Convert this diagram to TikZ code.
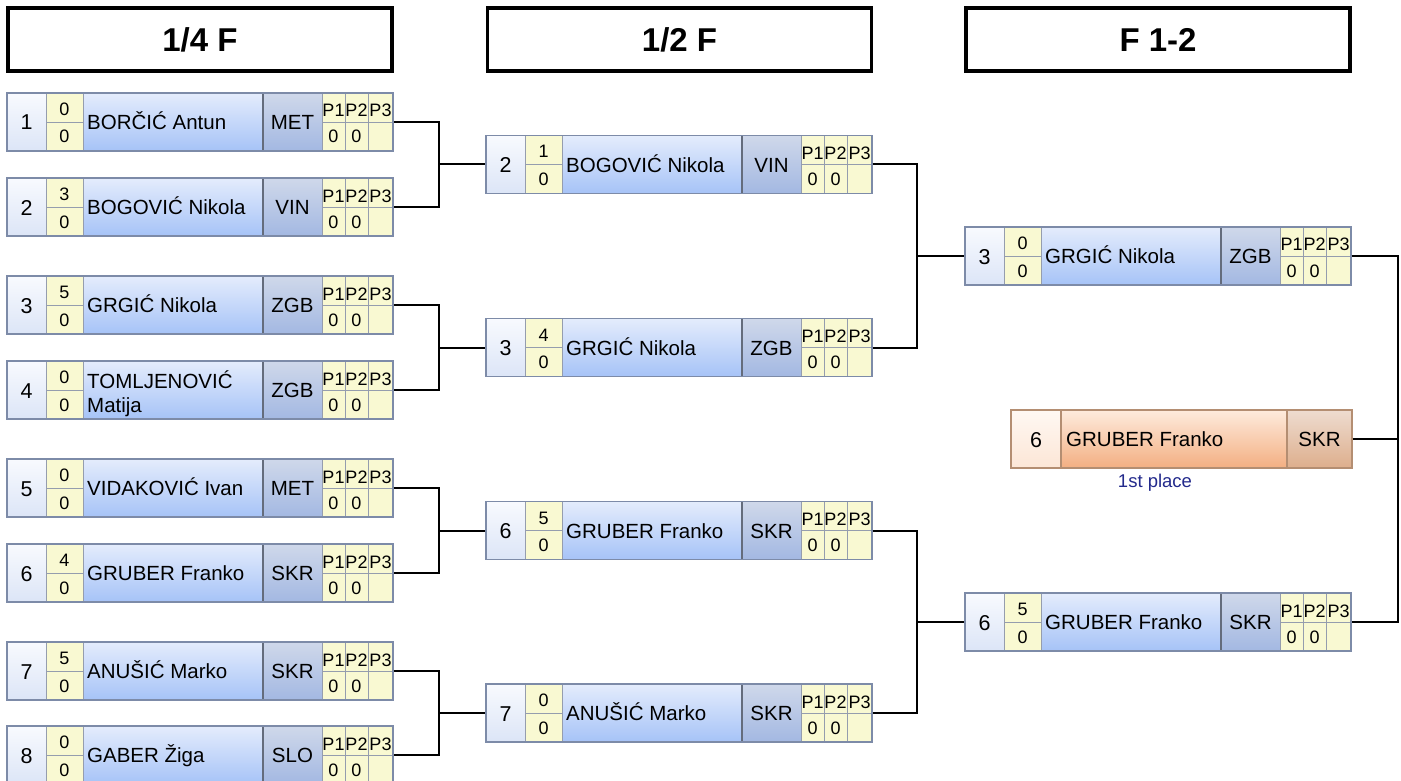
\documentclass[tikz,border=0pt]{standalone}
\usepackage{fontspec}
\setmainfont{Liberation Sans}
\usetikzlibrary{calc}
\definecolor{seedT}{HTML}{F8FAFE}
\definecolor{seedB}{HTML}{DCE5F7}
\definecolor{nameT}{HTML}{E4ECFC}
\definecolor{nameB}{HTML}{A6C3F7}
\definecolor{clubT}{HTML}{CFD8EA}
\definecolor{clubB}{HTML}{A3B8E2}
\definecolor{yel}{HTML}{F9F9D2}
\definecolor{frameC}{HTML}{7D8BA8}
\definecolor{sepC}{HTML}{959DAE}
\definecolor{sepD}{HTML}{646C7C}
\definecolor{wseedT}{HTML}{FFF8F3}
\definecolor{wseedB}{HTML}{FCE6D6}
\definecolor{wnameT}{HTML}{FEEBDD}
\definecolor{wnameB}{HTML}{F3AF82}
\definecolor{wclubT}{HTML}{EEDCD0}
\definecolor{wclubB}{HTML}{DDAE8C}
\definecolor{wframe}{HTML}{B48E72}
\definecolor{placeblue}{HTML}{232A8C}
\tikzset{
  conn/.style={line width=2pt, black},
  seedfill/.style={top color=seedT, bottom color=seedB},
  namefill/.style={top color=nameT, bottom color=nameB},
  clubfill/.style={top color=clubT, bottom color=clubB},
  yelfill/.style={fill=yel},
  sepline/.style={draw=sepC, line width=0.9pt},
  sepdark/.style={draw=sepD, line width=2pt},
  frame/.style={rectangle, draw=frameC, line width=1.3pt, minimum width=386pt, minimum height=58pt, inner sep=0pt},
  seedtxt/.style={inner sep=0pt, anchor=base, font=\fontsize{21.5}{25}\selectfont},
  bigtxt/.style={inner sep=0pt, anchor=base, font=\fontsize{20.5}{24}\selectfont},
  nametxt/.style={inner sep=0pt, anchor=base west, font=\fontsize{20.5}{24}\selectfont},
  smalltxt/.style={inner sep=0pt, anchor=base, font=\fontsize{18}{20}\selectfont},
  hdr/.style={rectangle, draw=black, line width=3.3pt, minimum width=384pt, minimum height=63pt, inner sep=0pt, font=\fontsize{33}{38}\selectfont\bfseries},
}
% #1 name, #2 left x, #3 centre y, #4 seed, #5 score top, #6 score bottom, #7 player, #8 club
\newcommand{\matchbox}[8]{%
  \begin{scope}[shift={(#2,#3)}]
    \path[seedfill] (0,-29) rectangle (39,29);
    \path[yelfill] (39,-29) rectangle (76,29);
    \path[namefill] (76,-29) rectangle (256,29);
    \path[clubfill] (256,-29) rectangle (315,29);
    \path[yelfill] (315,-29) rectangle (386,29);
    \draw[sepline] (39,-29) -- (39,29);
    \draw[sepline] (76,-29) -- (76,29);
    \draw[sepline] (315,-29) -- (315,29);
    \draw[sepline] (338,-29) -- (338,29);
    \draw[sepline] (361,-29) -- (361,29);
    \draw[sepline] (39,0) -- (76,0);
    \draw[sepline] (315,0) -- (386,0);
    \draw[sepdark] (256,-29) -- (256,29);
    \node[seedtxt] (#1-seed) at (19.5,8) {#4};
    \node[smalltxt] (#1-sa) at (57.5,-6.5) {#5};
    \node[smalltxt] (#1-sb) at (57.5,21) {#6};
    \node[nametxt] (#1-name) at (80,7.5) {#7};
    \node[bigtxt] (#1-club) at (285.5,7.5) {#8};
    \node[smalltxt] (#1-p1) at (326.5,-5) {P1};
    \node[smalltxt] (#1-p2) at (349.5,-5) {P2};
    \node[smalltxt] (#1-p3) at (373.5,-5) {P3};
    \node[smalltxt] (#1-v1) at (326.5,21) {0};
    \node[smalltxt] (#1-v2) at (349.5,21) {0};
  \end{scope}
  \node[frame] (#1) at (#2+193,#3) {};
}
\begin{document}
\begin{tikzpicture}[x=1pt, y=-1pt]
\useasboundingbox (0,0) rectangle (1401,781);
\fill[white] (0,0) rectangle (1401,781);

% headers
\node[hdr] (h1) at (200,39.5) {1/4 F};
\node[hdr] (h2) at (679.5,39.5) {1/2 F};
\node[hdr] (h3) at (1158,39.5) {F 1-2};

% quarter finals
\matchbox{q1}{7}{122}{1}{0}{0}{BORČIĆ Antun}{MET}
\matchbox{q2}{7}{207}{2}{3}{0}{BOGOVIĆ Nikola}{VIN}
\matchbox{q3}{7}{305}{3}{5}{0}{GRGIĆ Nikola}{ZGB}
\matchbox{q4}{7}{390}{4}{0}{0}{}{ZGB}
\node[nametxt] (q4-name1) at (87,388.5) {TOMLJENOVIĆ};
\node[nametxt] (q4-name2) at (87,412.5) {Matija};
\matchbox{q5}{7}{488}{5}{0}{0}{VIDAKOVIĆ Ivan}{MET}
\matchbox{q6}{7}{573}{6}{4}{0}{GRUBER Franko}{SKR}
\matchbox{q7}{7}{671}{7}{5}{0}{ANUŠIĆ Marko}{SKR}
\matchbox{q8}{7}{755}{8}{0}{0}{GABER Žiga}{SLO}

% semi finals
\matchbox{s1}{486}{164.5}{2}{1}{0}{BOGOVIĆ Nikola}{VIN}
\matchbox{s2}{486}{347.5}{3}{4}{0}{GRGIĆ Nikola}{ZGB}
\matchbox{s3}{486}{530.5}{6}{5}{0}{GRUBER Franko}{SKR}
\matchbox{s4}{486}{713}{7}{0}{0}{ANUŠIĆ Marko}{SKR}

% finals
\matchbox{f1}{965}{256}{3}{0}{0}{GRGIĆ Nikola}{ZGB}
\matchbox{f2}{965}{622}{6}{5}{0}{GRUBER Franko}{SKR}

% winner
\path[top color=wseedT, bottom color=wseedB] (1011,410) rectangle (1061,468);
\path[top color=wnameT, bottom color=wnameB] (1061,410) rectangle (1287,468);
\path[top color=wclubT, bottom color=wclubB] (1287,410) rectangle (1352,468);
\draw[draw=wframe, line width=1.5pt] (1061,410) -- (1061,468);
\draw[draw=wframe, line width=1.5pt] (1287,410) -- (1287,468);
\node[rectangle, draw=wframe, line width=1.3pt, minimum width=341pt, minimum height=58pt, inner sep=0pt] (w) at (1181.5,439) {};
\node[seedtxt] (w-seed) at (1036,447) {6};
\node[nametxt] (w-name) at (1066,446.5) {GRUBER Franko};
\node[bigtxt] (w-club) at (1319.5,446.5) {SKR};
\node[inner sep=0pt, text=placeblue, font=\fontsize{18.5}{22}\selectfont] (w-label) at (1155,483) {1st place};

% connectors
\coordinate (jq) at (439,0);
\coordinate (js) at (917,0);
\coordinate (jf) at (1398,0);
\draw[conn] (q1.east) -- (q1.east -| jq) -- (q2.east -| jq) -- (q2.east);
\draw[conn] (s1.west -| jq) -- (s1.west);
\draw[conn] (q3.east) -- (q3.east -| jq) -- (q4.east -| jq) -- (q4.east);
\draw[conn] (s2.west -| jq) -- (s2.west);
\draw[conn] (q5.east) -- (q5.east -| jq) -- (q6.east -| jq) -- (q6.east);
\draw[conn] (s3.west -| jq) -- (s3.west);
\draw[conn] (q7.east) -- (q7.east -| jq) -- (q8.east -| jq) -- (q8.east);
\draw[conn] (s4.west -| jq) -- (s4.west);
\draw[conn] (s1.east) -- (s1.east -| js) -- (s2.east -| js) -- (s2.east);
\draw[conn] (f1.west -| js) -- (f1.west);
\draw[conn] (s3.east) -- (s3.east -| js) -- (s4.east -| js) -- (s4.east);
\draw[conn] (f2.west -| js) -- (f2.west);
\draw[conn] (f1.east) -- (f1.east -| jf) -- (f2.east -| jf) -- (f2.east);
\draw[conn] (w.east) -- (w.east -| jf);
\end{tikzpicture}
\end{document}
